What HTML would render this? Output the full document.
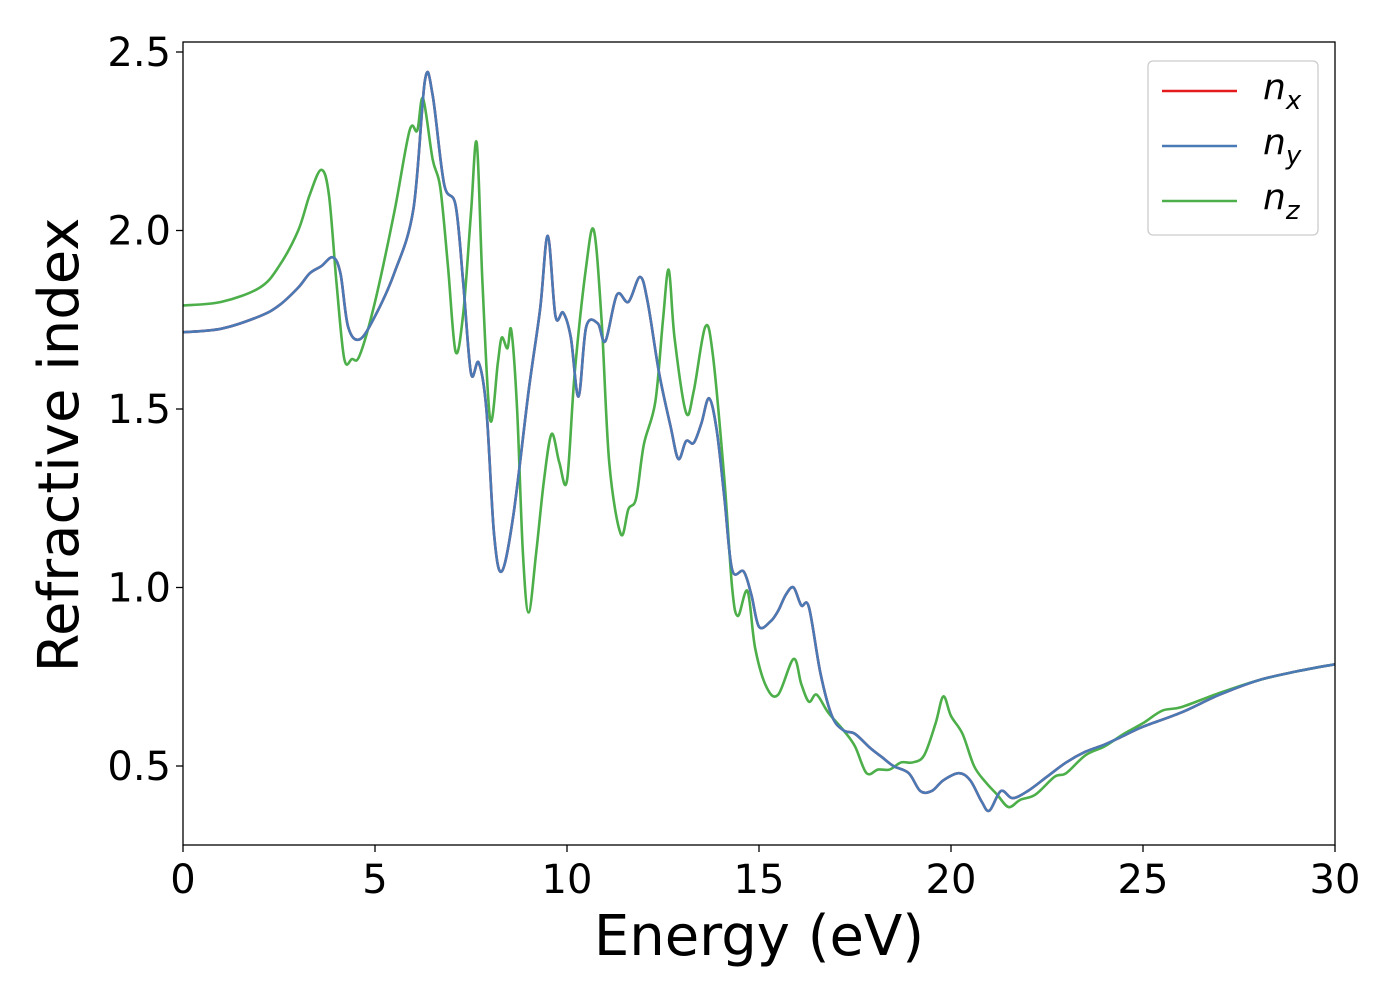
<!DOCTYPE html>
<html><head><meta charset="utf-8"><style>body{margin:0;background:#fff}svg{display:block;font-family:"DejaVu Sans","Liberation Sans",sans-serif}</style></head>
<body>
<svg id="chart" width="1400" height="1000" xmlns="http://www.w3.org/2000/svg"></svg>
<script>
const xTicks=[0,5,10,15,20,25,30];
const yTicks=[0.5,1.0,1.5,2.0,2.5];
const yTickLabels=["0.5","1.0","1.5","2.0","2.5"];
const energyXY=[0,1,2,2.5,3,3.3,3.6,3.9,4.1,4.3,4.6,5,5.5,6,6.3,6.5,6.8,7.1,7.3,7.5,7.7,7.9,8.1,8.3,8.6,9.0,9.3,9.5,9.7,9.9,10.1,10.3,10.5,10.8,11.0,11.3,11.6,11.9,12.1,12.4,12.7,12.9,13.1,13.3,13.5,13.7,13.9,14.1,14.3,14.6,14.8,15.0,15.3,15.5,15.7,15.9,16.1,16.3,16.6,16.9,17.2,17.5,17.9,18.2,18.5,18.9,19.2,19.5,19.8,20.2,20.5,20.8,21.0,21.3,21.6,22.0,22.5,23,23.5,24,24.5,25,26,27,28,29,30];
const nx=[1.715,1.725,1.76,1.79,1.84,1.88,1.9,1.925,1.88,1.73,1.695,1.76,1.88,2.06,2.42,2.38,2.13,2.07,1.85,1.6,1.63,1.5,1.15,1.045,1.2,1.55,1.78,1.985,1.76,1.77,1.7,1.535,1.73,1.74,1.69,1.82,1.8,1.87,1.8,1.6,1.45,1.36,1.41,1.405,1.46,1.53,1.44,1.25,1.05,1.045,0.98,0.89,0.905,0.935,0.98,1.0,0.95,0.945,0.76,0.64,0.6,0.59,0.55,0.525,0.5,0.48,0.43,0.43,0.46,0.48,0.46,0.4,0.375,0.43,0.41,0.43,0.47,0.51,0.54,0.56,0.585,0.61,0.65,0.7,0.74,0.765,0.785];
const ny=nx.slice();
const energyZ=[0,1,2,2.5,3,3.3,3.6,3.8,4.0,4.2,4.4,4.6,5.0,5.5,5.9,6.1,6.25,6.5,6.7,6.9,7.1,7.3,7.5,7.65,7.8,8.0,8.2,8.3,8.45,8.55,8.7,8.85,9.0,9.2,9.4,9.6,9.8,10.0,10.2,10.5,10.7,10.9,11.1,11.4,11.6,11.8,12.0,12.3,12.5,12.65,12.8,13.1,13.3,13.6,13.8,14.1,14.3,14.45,14.7,14.9,15.2,15.5,15.9,16.1,16.3,16.5,16.8,17.2,17.5,17.8,18.1,18.4,18.7,19.0,19.3,19.6,19.8,20.0,20.3,20.6,20.9,21.2,21.5,21.8,22.2,22.7,23,23.5,24,24.5,25,25.5,26,27,28,29,30];
const nz=[1.79,1.8,1.84,1.9,2.0,2.1,2.17,2.1,1.85,1.64,1.64,1.65,1.8,2.05,2.28,2.28,2.37,2.2,2.12,1.9,1.66,1.77,2.05,2.245,1.85,1.47,1.63,1.7,1.67,1.72,1.5,1.1,0.93,1.1,1.3,1.43,1.35,1.3,1.6,1.9,2.0,1.75,1.35,1.15,1.22,1.25,1.4,1.52,1.75,1.89,1.7,1.49,1.55,1.73,1.65,1.3,1.0,0.92,0.99,0.83,0.72,0.7,0.8,0.73,0.68,0.7,0.65,0.6,0.555,0.48,0.49,0.49,0.51,0.51,0.53,0.62,0.695,0.64,0.59,0.5,0.455,0.42,0.385,0.405,0.42,0.47,0.48,0.53,0.555,0.59,0.62,0.655,0.665,0.705,0.74,0.765,0.785];
const L=183,R=1335,T=42,B=845;
const xS=v=>L+(v-0)/30*(R-L);
const yS=v=>766-(v-0.5)*357;
const svg=document.getElementById('chart');const NS="http://www.w3.org/2000/svg";
function mk(t,a,p){const e=document.createElementNS(NS,t);for(const k in a)e.setAttribute(k,a[k]);(p||svg).appendChild(e);return e;}
const clip=mk('clipPath',{id:'pc'});mk('rect',{x:L,y:T,width:R-L,height:B-T},clip);
function path(xs,ys){const p=xs.map((x,i)=>[xS(x),yS(ys[i])]);let d=`M${p[0][0]},${p[0][1]}`;
for(let i=0;i<p.length-1;i++){const p0=p[Math.max(0,i-1)],p1=p[i],p2=p[i+1],p3=p[Math.min(p.length-1,i+2)];
d+=`C${p1[0]+(p2[0]-p0[0])/6},${p1[1]+(p2[1]-p0[1])/6} ${p2[0]-(p3[0]-p1[0])/6},${p2[1]-(p3[1]-p1[1])/6} ${p2[0]},${p2[1]}`;}return d;}
const series=[["nx-line",energyXY,nx,"#e41a1c"],["ny-line",energyXY,ny,"#4a7ab5"],["nz-line",energyZ,nz,"#4daf4a"]];
const g=mk('g',{'clip-path':'url(#pc)'});

[series[0],series[2],series[1]].forEach(s=>{const e=mk('path',{d:path(s[1],s[2]),fill:'none',stroke:s[3],'stroke-width':2.6,'stroke-linejoin':'round'},g);
});
const fr=mk('rect',{x:L,y:T,width:R-L,height:B-T,fill:'none',stroke:'#000','stroke-width':1.3});

xTicks.forEach(v=>{const x=xS(v);mk('line',{x1:x,x2:x,y1:B,y2:B+7,stroke:'#000','stroke-width':1.3});
const t=mk('text',{x:x,y:B+48,'font-size':40,'text-anchor':'middle'});t.textContent=v;
});
yTicks.forEach((v,i)=>{const y=yS(v);mk('line',{x1:L-7,x2:L,y1:y,y2:y,stroke:'#000','stroke-width':1.3});
const t=mk('text',{x:L-12,y:y+14,'font-size':40,'text-anchor':'end'});t.textContent=yTickLabels[i];
});
const xt=mk('text',{x:759,y:955,'font-size':56,'text-anchor':'middle'});xt.textContent='Energy (eV)';

const yt=mk('text',{x:78,y:445,'font-size':56,'text-anchor':'middle',transform:'rotate(-90 78 445)'});yt.textContent='Refractive index';

const lg=mk('g',{});
mk('rect',{x:1148,y:61,width:170,height:174,rx:5,fill:'#fff',stroke:'#ccc','stroke-width':1.3},lg);
const subs=['x','y','z'];
series.forEach((s,i)=>{const y=91+i*55;mk('line',{x1:1162,x2:1237,y1:y,y2:y,stroke:s[3],'stroke-width':2.6},lg);
const t=mk('text',{x:1263,y:y+8,'font-size':36,'font-style':'italic'},lg);
t.innerHTML=`n<tspan font-size="26" dy="10">${subs[i]}</tspan>`;
});
</script>
</body></html>
